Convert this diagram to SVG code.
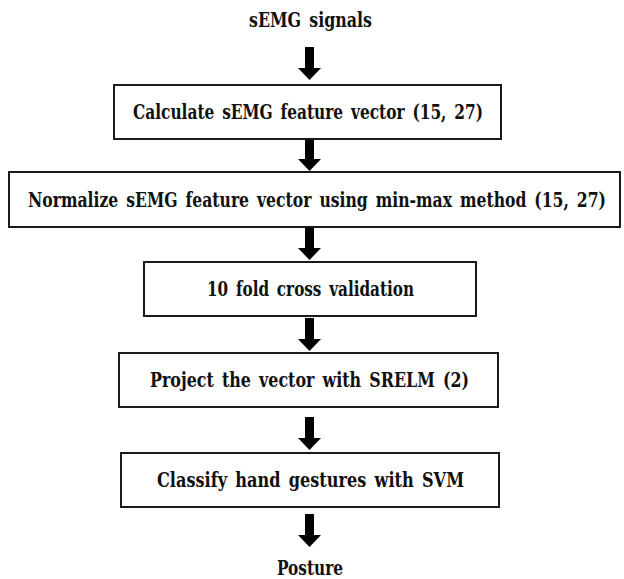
<svg xmlns="http://www.w3.org/2000/svg" width="624" height="579" viewBox="0 0 624 579">
  <style>
    .box { fill: #ffffff; stroke: #1a1a1a; stroke-width: 2; }
    .lbl { font-family: "DejaVu Serif", "Liberation Serif", serif; font-stretch: condensed; font-size: 20.5px; font-weight: bold; fill: #111111; word-spacing: 3px; }
    .arrow { fill: #000000; }
  </style>
  <defs>
    <!-- block arrow, tip at (0,0), pointing down -->
    <path id="dn" d="M -4.5 -33 L 4.5 -33 L 4.5 -12 L 11.5 -12 L 0 0 L -11.5 -12 L -4.5 -12 Z"/>
  </defs>
  <rect width="624" height="579" fill="#ffffff"/>

  <g id="connectors" class="arrow">
    <use href="#dn" x="309.5" y="80"/>
    <use href="#dn" x="309.5" y="171"/>
    <use href="#dn" x="309.5" y="260"/>
    <use href="#dn" x="309.5" y="351"/>
    <use href="#dn" x="309.5" y="450"/>
    <use href="#dn" x="309.5" y="547"/>
  </g>

  <!-- labels are drawn in a horizontally narrowed frame (scale 0.8), so textLength = width / 0.8 -->
  <g id="input">
    <text class="lbl" transform="translate(310.5,27) scale(0.8,1)" text-anchor="middle" textLength="153.75" lengthAdjust="spacingAndGlyphs">sEMG signals</text>
  </g>

  <g id="feature">
    <rect class="box" x="114" y="85" width="387" height="54"/>
    <text class="lbl" transform="translate(133,119) scale(0.8,1)" textLength="437.5" lengthAdjust="spacingAndGlyphs">Calculate sEMG feature vector (15, 27)</text>
  </g>

  <g id="normalize">
    <rect class="box" x="9" y="172" width="611" height="55"/>
    <text class="lbl" transform="translate(28,207) scale(0.8,1)" textLength="722.5" lengthAdjust="spacingAndGlyphs">Normalize sEMG feature vector using min-max method (15, 27)</text>
  </g>

  <g id="crossval">
    <rect class="box" x="144" y="262" width="332" height="54"/>
    <text class="lbl" transform="translate(207,296) scale(0.8,1)" textLength="258.75" lengthAdjust="spacingAndGlyphs">10 fold cross validation</text>
  </g>

  <g id="project">
    <rect class="box" x="119" y="353" width="379" height="54"/>
    <text class="lbl" transform="translate(150,387) scale(0.8,1)" textLength="398.75" lengthAdjust="spacingAndGlyphs">Project the vector with  SRELM (2)</text>
  </g>

  <g id="classify">
    <rect class="box" x="121" y="453" width="378" height="54"/>
    <text class="lbl" transform="translate(157,487) scale(0.8,1)" textLength="383.75" lengthAdjust="spacingAndGlyphs">Classify hand gestures with SVM</text>
  </g>

  <g id="output">
    <text class="lbl" transform="translate(310,575) scale(0.8,1)" text-anchor="middle" textLength="82.5" lengthAdjust="spacingAndGlyphs">Posture</text>
  </g>
</svg>
